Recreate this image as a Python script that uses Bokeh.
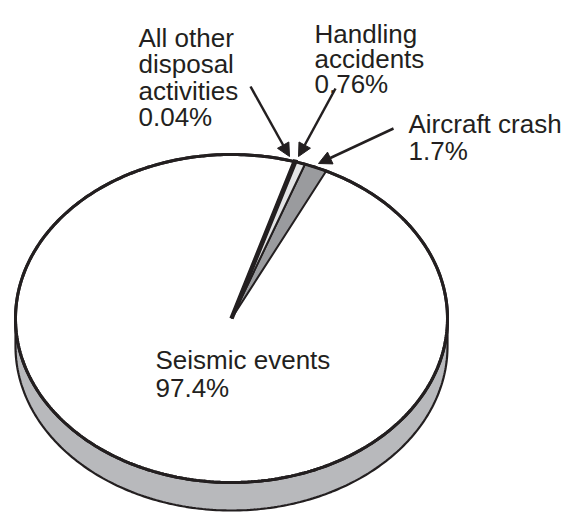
import numpy as np
from bokeh.plotting import figure
from bokeh.models import Range1d, Arrow, NormalHead, ColumnDataSource
from bokeh.core.properties import value
from bokeh.embed import file_html
from bokeh.resources import INLINE

# ---- data ----
categories = ["Seismic events", "Aircraft crash", "Handling accidents", "All other disposal activities"]
shares = [97.4, 1.7, 0.76, 0.04]
pct_labels = ["97.4%", "1.7%", "0.76%", "0.04%"]
label_lines = [
    ["Seismic events", "97.4%"],
    ["Aircraft crash", "1.7%"],
    ["Handling", "accidents", "0.76%"],
    ["All other", "disposal", "activities", "0.04%"],
]
slice_colors = ["#ffffff", "#9a9b9e", "#e3e4e5", "#231f20"]

# ---- layout (pixel space, y downward) ----
W, H = 566, 512
cx, cy = 231, 318      # ellipse centre
ra, rb = 216, 164      # semi axes
depth = 28
start_deg = 64.0       # where the first small slice starts (counter-clockwise)
ink = "#231f20"
side_color = "#b8b9bc"

label_pos = [  # (left x, first baseline, line step)
    (155, 359, 28),
    (408, 123, 27),
    (314, 33, 25),
    (138, 37, 26.5),
]
arrow_pos = [  # (x_start, y_start, x_end, y_end)
    None,
    (393, 128, 318, 163),
    (335, 88, 298, 156),
    (250, 86, 289, 156),
]

p = figure(width=W, height=H, x_range=Range1d(0, W), y_range=Range1d(H, 0),
           output_backend="svg", toolbar_location=None, min_border=0)
p.axis.visible = False
p.grid.visible = False
p.outline_line_color = None
p.background_fill_color = "white"
p.border_fill_color = "white"


def pt(theta_deg, dy=0.0):
    t = np.radians(theta_deg)
    return cx + ra * np.cos(t), cy - rb * np.sin(t) + dy


# side (rim) of the disc
th = np.linspace(180, 360, 200)
tx, ty = pt(th)
bx, by = pt(th[::-1], depth)
p.patch(np.concatenate([tx, bx]), np.concatenate([ty, by]),
        fill_color=side_color, line_color=ink, line_width=2.2)

# top face outline
thf = np.linspace(0, 360, 400)
ex, ey = pt(thf)
p.patch(ex, ey, fill_color="white", line_color=ink, line_width=3)

# small slices: order counter-clockwise starting at start_deg
ang = start_deg
wedges = []
for i in [1, 2, 3]:
    span = shares[i] / 100 * 360
    wedges.append((i, ang, ang + span))
    ang += span
for i, a0, a1 in wedges:
    tt = np.linspace(a0, a1, 30)
    wx, wy = pt(tt)
    xs = np.concatenate([[cx], wx])
    ys = np.concatenate([[cy], wy])
    lw = 4.5 if i == 3 else 2.0
    p.patch(xs, ys, fill_color=slice_colors[i], line_color=ink, line_width=lw,
            line_join="miter")

# redraw top arc over slices
p.line(ex, ey, line_color=ink, line_width=3)

# labels
xs, ys, ts = [], [], []
for lines, (lx, ly, step) in zip(label_lines, label_pos):
    for k, t in enumerate(lines):
        xs.append(lx)
        ys.append(ly + k * step)
        ts.append(t)
src = ColumnDataSource(dict(x=xs, y=ys, text=ts))
p.text(x="x", y="y", text="text", source=src, text_font=value("Liberation Sans"),
       text_font_size="26px", text_baseline="alphabetic", text_align="left",
       text_color=ink)

# arrows
for a in arrow_pos:
    if a is None:
        continue
    p.add_layout(Arrow(end=NormalHead(size=13, fill_color=ink, line_color=ink),
                       x_start=a[0], y_start=a[1], x_end=a[2], y_end=a[3],
                       line_color=ink, line_width=2.5))

open("out.html", "w").write(file_html(p, INLINE))
